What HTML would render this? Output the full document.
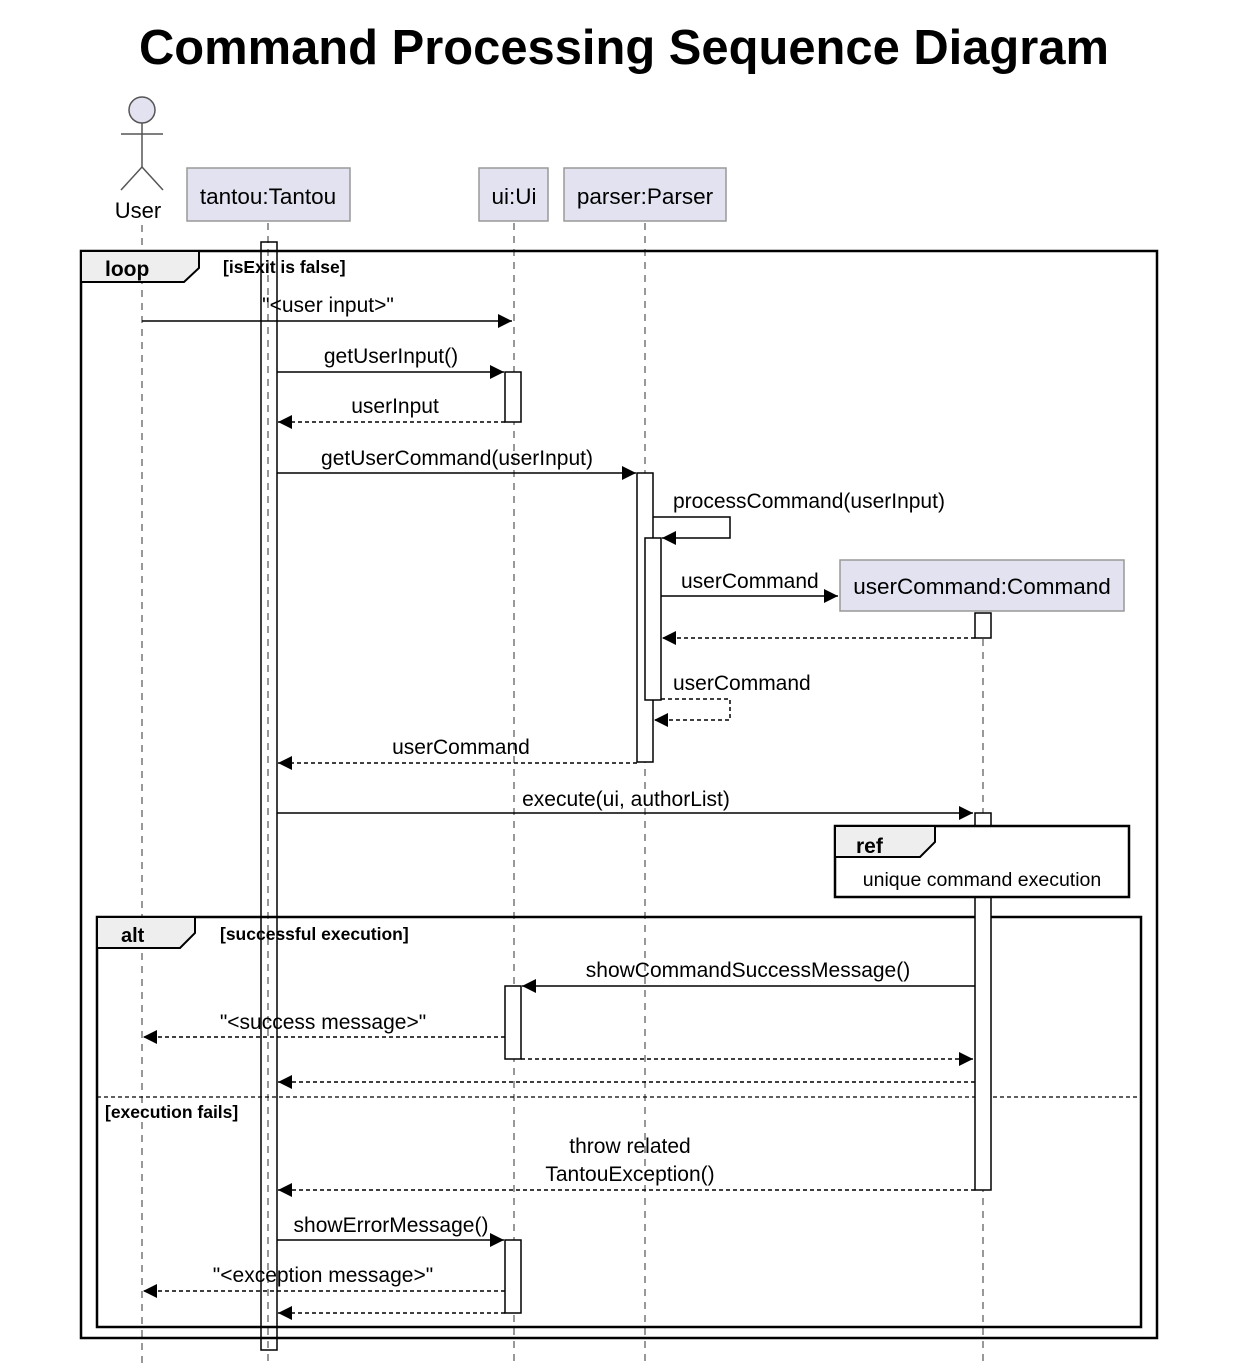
<!DOCTYPE html>
<html><head><meta charset="utf-8"><style>
html,body{margin:0;padding:0;background:#fff;}
svg text{font-family:"Liberation Sans",Arial,sans-serif;fill:#000;}
</style></head><body>
<svg width="1244" height="1364" viewBox="0 0 1244 1364" xmlns="http://www.w3.org/2000/svg">
<defs>
<marker id="a" viewBox="0 0 10 10" refX="10" refY="5" markerWidth="20" markerHeight="14" markerUnits="userSpaceOnUse" orient="auto"><path d="M0,0 L10,5 L0,10 z" fill="#000"/></marker>
</defs>
<text x="624" y="64" font-size="49" font-weight="bold" text-anchor="middle" textLength="970" lengthAdjust="spacingAndGlyphs">Command Processing Sequence Diagram</text>
<!-- lifelines -->
<g stroke="#555" stroke-width="1.2" stroke-dasharray="7,6">
<line x1="142" y1="225" x2="142" y2="1364"/>
<line x1="268" y1="223" x2="268" y2="1364"/>
<line x1="514" y1="223" x2="514" y2="1364"/>
<line x1="645" y1="223" x2="645" y2="1364"/>
<line x1="983" y1="613" x2="983" y2="1364"/>
</g>
<!-- actor -->
<g stroke="#555" stroke-width="1.5" fill="none">
<circle cx="142" cy="110" r="13" fill="#e2e2f0"/>
<line x1="142" y1="123" x2="142" y2="167"/>
<line x1="121" y1="134" x2="163" y2="134"/>
<line x1="142" y1="167" x2="121" y2="190"/>
<line x1="142" y1="167" x2="163" y2="190"/>
</g>
<text x="138" y="218" font-size="22" text-anchor="middle">User</text>
<!-- participants -->
<g fill="#e2e2f0" stroke="#999" stroke-width="1.5">
<rect x="187" y="168" width="163" height="53"/>
<rect x="479" y="168" width="69" height="53"/>
<rect x="564" y="168" width="162" height="53"/>
<rect x="840" y="560" width="284" height="51"/>
</g>
<g font-size="22.5" text-anchor="middle">
<text x="268" y="204">tantou:Tantou</text>
<text x="514" y="204">ui:Ui</text>
<text x="645" y="204">parser:Parser</text>
<text x="982" y="594">userCommand:Command</text>
</g>
<!-- loop frame -->
<rect x="81" y="251" width="1076" height="1087" fill="none" stroke="#000" stroke-width="2.5"/>
<path d="M81,251 L199,251 L199,268 L184,282 L81,282 z" fill="#eee" stroke="#000" stroke-width="2"/>
<text x="105" y="276" font-size="21" font-weight="bold">loop</text>
<text x="223" y="273" font-size="17.5" font-weight="bold">[isExit is false]</text>
<!-- alt frame -->
<rect x="97" y="917" width="1044" height="410" fill="none" stroke="#000" stroke-width="2.5"/>
<path d="M97,917 L195,917 L195,933 L180,948 L97,948 z" fill="#eee" stroke="#000" stroke-width="2"/>
<text x="121" y="942" font-size="20" font-weight="bold">alt</text>
<text x="220" y="940" font-size="17.5" font-weight="bold">[successful execution]</text>
<line x1="97" y1="1097" x2="1141" y2="1097" stroke="#000" stroke-width="1.2" stroke-dasharray="4,3"/>
<text x="105" y="1118" font-size="17.5" font-weight="bold">[execution fails]</text>
<!-- activations -->
<rect x="261" y="242" width="16" height="1108" fill="none" stroke="#000" stroke-width="1.5"/>
<g fill="#fff" stroke="#000" stroke-width="1.5">
<rect x="505" y="372" width="16" height="50"/>
<rect x="637" y="473" width="16" height="289"/>
<rect x="645" y="538" width="16" height="162"/>
<rect x="975" y="613" width="16" height="25"/>
<rect x="975" y="813" width="16" height="377"/>
<rect x="505" y="986" width="16" height="73"/>
<rect x="505" y="1240" width="16" height="73"/>
</g>
<!-- ref -->
<rect x="835" y="826" width="294" height="71" fill="#fff" stroke="#000" stroke-width="2.5"/>
<path d="M835,826 L935,826 L935,842 L920,857 L835,857 z" fill="#eee" stroke="#000" stroke-width="2"/>
<text x="856" y="853" font-size="21" font-weight="bold">ref</text>
<text x="982" y="886" font-size="19.5" text-anchor="middle">unique command execution</text>
<!-- messages solid -->
<g stroke="#000" stroke-width="1.5" fill="none" marker-end="url(#a)">
<line x1="142" y1="321" x2="512" y2="321"/>
<line x1="277" y1="372" x2="504" y2="372"/>
<line x1="277" y1="473" x2="636" y2="473"/>
<polyline points="653,517 730,517 730,538 662,538"/>
<line x1="661" y1="596" x2="838" y2="596"/>
<line x1="277" y1="813" x2="973" y2="813"/>
<line x1="975" y1="986" x2="522" y2="986"/>
<line x1="277" y1="1240" x2="504" y2="1240"/>
</g>
<!-- messages dashed -->
<g stroke="#000" stroke-width="1.5" fill="none" stroke-dasharray="4,3" marker-end="url(#a)">
<line x1="505" y1="422" x2="278" y2="422"/>
<line x1="975" y1="638" x2="662" y2="638"/>
<polyline points="661,699 730,699 730,720 654,720"/>
<line x1="637" y1="763" x2="278" y2="763"/>
<line x1="505" y1="1037" x2="143" y2="1037"/>
<line x1="521" y1="1059" x2="973" y2="1059"/>
<line x1="975" y1="1082" x2="278" y2="1082"/>
<line x1="975" y1="1190" x2="278" y2="1190"/>
<line x1="505" y1="1291" x2="143" y2="1291"/>
<line x1="505" y1="1313" x2="278" y2="1313"/>
</g>
<!-- labels -->
<g font-size="21">
<text x="328" y="312" text-anchor="middle">"&lt;user input&gt;"</text>
<text x="391" y="363" text-anchor="middle">getUserInput()</text>
<text x="395" y="413" text-anchor="middle">userInput</text>
<text x="457" y="465" text-anchor="middle">getUserCommand(userInput)</text>
<text x="673" y="508">processCommand(userInput)</text>
<text x="681" y="588">userCommand</text>
<text x="673" y="690">userCommand</text>
<text x="461" y="754" text-anchor="middle">userCommand</text>
<text x="626" y="806" text-anchor="middle">execute(ui, authorList)</text>
<text x="748" y="977" text-anchor="middle">showCommandSuccessMessage()</text>
<text x="323" y="1029" text-anchor="middle">"&lt;success message&gt;"</text>
<text x="630" y="1153" text-anchor="middle">throw related</text>
<text x="630" y="1181" text-anchor="middle">TantouException()</text>
<text x="391" y="1232" text-anchor="middle">showErrorMessage()</text>
<text x="323" y="1282" text-anchor="middle">"&lt;exception message&gt;"</text>
</g>
</svg>
</body></html>
